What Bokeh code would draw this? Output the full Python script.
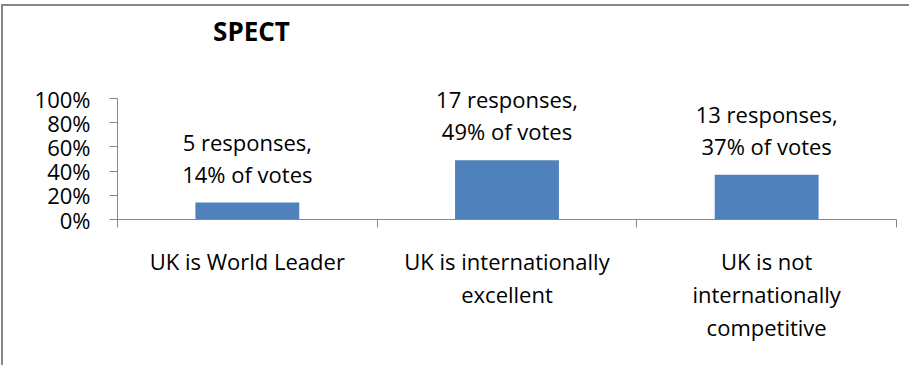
from bokeh.plotting import figure
from bokeh.models import (ColumnDataSource, FixedTicker, NumeralTickFormatter, Label, Range1d)
from bokeh.embed import file_html
from bokeh.resources import INLINE

# data
categories = ["UK is World Leader", "UK is internationally\nexcellent",
              "UK is not\ninternationally\ncompetitive"]
responses = [5, 17, 13]
vote_pct = [14, 49, 37]
title_text = "SPECT"

FONT = "Open Sans"
GRAY = "#868686"

W, H = 908, 361
BOTTOM = 148
TOP_PAD = 92          # pixels between canvas top and the 100% line
FRAME_H = H - BOTTOM  # frame height (frame spans from canvas top)

xs = [i + 0.5 for i in range(len(categories))]
shares = [v / 100 for v in vote_pct]
src = ColumnDataSource(dict(x=xs, share=shares))

p = figure(width=W, height=H, output_backend="svg", toolbar_location=None, title=None,
           x_range=Range1d(0, len(categories)),
           y_range=Range1d(0, FRAME_H / (FRAME_H - TOP_PAD)),
           min_border_left=114, min_border_right=15, min_border_top=0, min_border_bottom=BOTTOM)
p.styles = {"border-top": f"2px solid {GRAY}", "border-left": f"2px solid {GRAY}",
            "margin-top": "4px", "margin-left": "1px"}
p.outline_line_color = None
p.xgrid.visible = False
p.ygrid.visible = False

p.vbar(x="x", top="share", width=0.4, source=src, fill_color="#4F81BD", line_color=None)

# y axis
ya = p.yaxis[0]
ya.bounds = (0, 1)
ya.ticker = FixedTicker(ticks=[0, 0.2, 0.4, 0.6, 0.8, 1.0], minor_ticks=[])
ya.formatter = NumeralTickFormatter(format="0%")
ya.axis_line_color = GRAY
ya.major_tick_line_color = GRAY
ya.major_tick_out = 8
ya.major_tick_in = 0
ya.minor_tick_line_color = None
ya.major_label_standoff = 19
ya.major_label_text_font = FONT
ya.major_label_text_font_size = "22px"
ya.major_label_text_color = "black"

# x axis
xa = p.xaxis[0]
xa.ticker = FixedTicker(ticks=xs, minor_ticks=[float(i) for i in range(len(categories) + 1)])
xa.major_label_overrides = {x: c for x, c in zip(xs, categories)}
xa.axis_line_color = GRAY
xa.major_tick_line_color = None
xa.major_tick_out = 0
xa.major_tick_in = 0
xa.minor_tick_line_color = GRAY
xa.minor_tick_out = 8
xa.minor_tick_in = 0
xa.major_label_standoff = 18
xa.major_label_text_font = FONT
xa.major_label_text_font_size = "22px"
xa.major_label_text_color = "black"
xa.major_label_text_line_height = 1.1

for x, s, r, v in zip(xs, shares, responses, vote_pct):
    for txt, off in ((f"{r} responses,", 61), (f"{v}% of votes", 29)):
        p.add_layout(Label(x=x, y=s, text=txt, y_offset=off,
                           text_align="center", text_baseline="middle",
                           text_font=FONT, text_font_size="22px", text_color="black"))

# chart title (screen units measured from the frame's bottom-left corner)
p.add_layout(Label(x=134, y=FRAME_H - 24, x_units="screen", y_units="screen", text=title_text,
                   text_align="center", text_baseline="middle", text_font=FONT,
                   text_font_style="bold", text_font_size="26px", text_color="black"))

open("out.html", "w").write(file_html(p, INLINE))
